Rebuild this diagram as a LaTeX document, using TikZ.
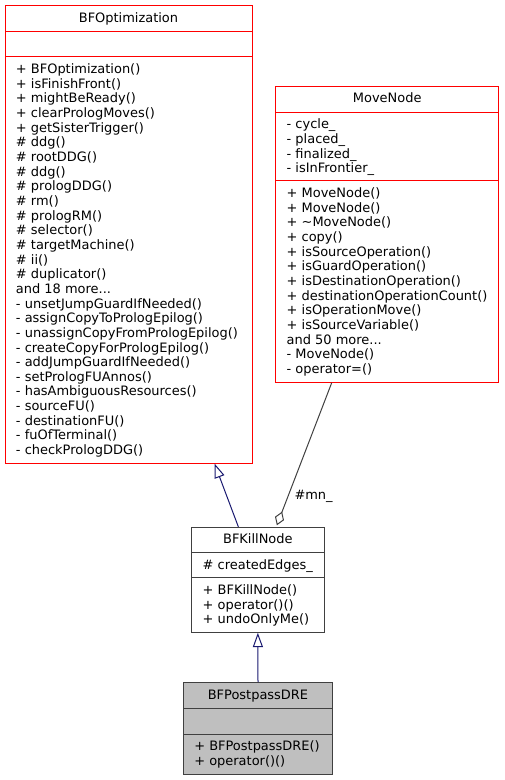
\documentclass[tikz,border=0pt]{standalone}
\usepackage{fontspec}
\setmainfont{DejaVu Sans}
\usetikzlibrary{arrows.meta,fit,calc}

\definecolor{inheritblue}{RGB}{25,25,112}
\definecolor{darkgrey}{RGB}{64,64,64}
\definecolor{currentfill}{RGB}{191,191,191}

\tikzset{every picture/.style={line width=0.75pt}}
\tikzset{
  classred/.style={draw=red, inner sep=0pt},
  classgrey/.style={draw=darkgrey, inner sep=0pt},
  classcur/.style={draw=darkgrey, fill=currentfill, inner sep=0pt},
  members/.style={inner sep=0pt, align=left, font=\fontsize{9.72}{10.99}\selectfont},
  classname/.style={inner sep=0pt, font=\fontsize{9.72}{10.99}\selectfont},
  inherit/.style={draw=inheritblue, -{Triangle[open, length=10.8pt, width=7.6pt, fill=white]}},
  usage/.style={draw=darkgrey, -{Diamond[open, length=11pt, width=7.2pt, fill=white]}},
}

\begin{document}
\begin{tikzpicture}[x=0.75pt,y=0.75pt,yscale=-1,xscale=1]
\useasboundingbox (0,0) rectangle (504,780);

%Shape: Rectangle [BFOptimization]
\node [classred, fit={(5,6) (252,463)}] (bfopt) {};
\draw [red] (5,32) -- (252,32) ;
\draw [red] (5,57) -- (252,57) ;
%Shape: Rectangle [MoveNode]
\node [classred, fit={(275.7,86.7) (498.7,382.3)}] (movenode) {};
\draw [red] (275.7,112.3) -- (498.7,112.3) ;
\draw [red] (275.7,181) -- (498.7,181) ;
%Shape: Rectangle [BFKillNode]
\node [classgrey, fit={(191.7,527.3) (324,632.3)}] (bfkill) {};
\draw [darkgrey] (191.7,552.3) -- (324,552.3) ;
\draw [darkgrey] (191.7,577.7) -- (324,577.7) ;
%Shape: Rectangle [BFPostpassDRE]
\node [classcur, fit={(183.3,682.7) (332.7,774)}] (bfdre) {};
\draw [darkgrey] (183.3,708.3) -- (332.7,708.3) ;
\draw [darkgrey] (183.3,734) -- (332.7,734) ;

%Straight Lines
\draw [inherit] ($(bfkill.north)+(-19.5,0)$) -- ($(bfopt.south)+(86,0)$) ;
\draw [inherit] (bfdre.north) -- (bfkill.south) ;
\draw [usage] ($(movenode.south)+(-55.5,0)$) -- ($(bfkill.north)+(19,-1.5)$) ;

% Text Node
\draw (128.5,22.5) node [anchor=base][classname] (optname) {BFOptimization};
% Text Node (base = last line)
\draw (15.5,454.6) node [anchor=base west][members] (optops) {+ BFOptimization()\\+ isFinishFront()\\+ mightBeReady()\\+ clearPrologMoves()\\+ getSisterTrigger()\\\# ddg()\\\# rootDDG()\\\# ddg()\\\# prologDDG()\\\# rm()\\\# prologRM()\\\# selector()\\\# targetMachine()\\\# ii()\\\# duplicator()\\and 18 more...\\- unsetJumpGuardIfNeeded()\\- assignCopyToPrologEpilog()\\- unassignCopyFromPrologEpilog()\\- createCopyForPrologEpilog()\\- addJumpGuardIfNeeded()\\- setPrologFUAnnos()\\- hasAmbiguousResources()\\- sourceFU()\\- destinationFU()\\- fuOfTerminal()\\- checkPrologDDG()};
% Text Node
\draw (387.2,103) node [anchor=base][classname] (movename) {MoveNode};
% Text Node
\draw (286.2,172.9) node [anchor=base west][members] (moveattrs) {- cycle\_\\- placed\_\\- finalized\_\\- isInFrontier\_};
% Text Node
\draw (286.2,373.5) node [anchor=base west][members] (moveops) {+ MoveNode()\\+ MoveNode()\\+ \textasciitilde MoveNode()\\+ copy()\\+ isSourceOperation()\\+ isGuardOperation()\\+ isDestinationOperation()\\+ destinationOperationCount()\\+ isOperationMove()\\+ isSourceVariable()\\and 50 more...\\- MoveNode()\\- operator=()};
% Text Node
\draw (257.85,543.3) node [anchor=base][classname] (killname) {BFKillNode};
% Text Node
\draw (202.2,569) node [anchor=base west][members] (killattrs) {\# createdEdges\_};
% Text Node
\draw (202.2,623.7) node [anchor=base west][members] (killops) {+ BFKillNode()\\+ operator()()\\+ undoOnlyMe()};
% Text Node
\draw (258,699) node [anchor=base][classname] (drename) {BFPostpassDRE};
% Text Node
\draw (193.8,765.3) node [anchor=base west][members] (dreops) {+ BFPostpassDRE()\\+ operator()()};
% Text Node
\draw (294,499) node [anchor=base west][classname] (mnlabel) {\#mn\_};

\end{tikzpicture}
\end{document}
